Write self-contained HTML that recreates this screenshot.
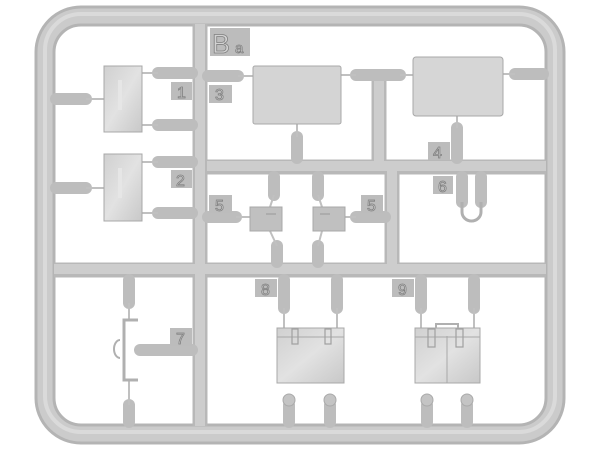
<!DOCTYPE html>
<html><head><style>
html,body{margin:0;padding:0;background:#fff;width:600px;height:450px;overflow:hidden}
svg text{font-family:"Liberation Sans",sans-serif;}
</style></head><body>
<svg width="600" height="450" viewBox="0 0 600 450" xmlns="http://www.w3.org/2000/svg">
<defs>
<linearGradient id="bag" x1="0" y1="0" x2="1" y2="1"><stop offset="0" stop-color="#d0d0d0"/><stop offset="0.5" stop-color="#e2e2e2"/><stop offset="1" stop-color="#c8c8c8"/></linearGradient>
</defs>
<rect width="600" height="450" fill="#fff"/>
<rect x="45" y="16" width="510" height="418" rx="36" fill="none" stroke="#b4b4b4" stroke-width="21"/>
<rect x="45" y="16" width="510" height="418" rx="36" fill="none" stroke="#cbcbcb" stroke-width="15"/>
<rect x="45" y="14" width="510" height="418" rx="36" fill="none" stroke="#dadada" stroke-width="4"/>
<g stroke-linecap="butt">
<g stroke="#b8b8b8" stroke-width="15">
<line x1="200" y1="24" x2="200" y2="426"/>
<line x1="207" y1="167" x2="546" y2="167"/>
<line x1="54" y1="270" x2="546" y2="270"/>
<line x1="392" y1="170" x2="392" y2="268"/>
<line x1="379" y1="70" x2="379" y2="162"/>
</g>
<g stroke="#cdcdcd" stroke-width="10">
<line x1="200" y1="24" x2="200" y2="426"/>
<line x1="207" y1="166" x2="546" y2="166"/>
<line x1="54" y1="269" x2="546" y2="269"/>
<line x1="392" y1="170" x2="392" y2="268"/>
<line x1="379" y1="70" x2="379" y2="162"/>
</g>
<g stroke="#bdbdbd" stroke-width="12" stroke-linecap="round">
<line x1="56" y1="99" x2="86" y2="99"/>
<line x1="56" y1="188" x2="86" y2="188"/>
<line x1="158" y1="73" x2="192" y2="73"/>
<line x1="158" y1="125" x2="192" y2="125"/>
<line x1="158" y1="162" x2="192" y2="162"/>
<line x1="158" y1="213" x2="192" y2="213"/>
<line x1="208" y1="76" x2="238" y2="76"/>
<line x1="356" y1="75" x2="400" y2="75"/>
<line x1="515" y1="74" x2="543" y2="74"/>
<line x1="208" y1="217" x2="236" y2="217"/>
<line x1="356" y1="217" x2="385" y2="217"/>
<line x1="140" y1="350" x2="192" y2="350"/>
<line x1="297" y1="137" x2="297" y2="158"/>
<line x1="457" y1="128" x2="457" y2="158"/>
<line x1="462" y1="177" x2="462" y2="202"/>
<line x1="481" y1="177" x2="481" y2="202"/>
<line x1="274" y1="177" x2="274" y2="195"/>
<line x1="318" y1="177" x2="318" y2="195"/>
<line x1="277" y1="246" x2="277" y2="262"/>
<line x1="318" y1="246" x2="318" y2="262"/>
<line x1="129" y1="280" x2="129" y2="303"/>
<line x1="129" y1="405" x2="129" y2="422"/>
<line x1="284" y1="280" x2="284" y2="308"/>
<line x1="337" y1="280" x2="337" y2="308"/>
<line x1="421" y1="280" x2="421" y2="308"/>
<line x1="474" y1="280" x2="474" y2="308"/>
<line x1="289" y1="405" x2="289" y2="422"/>
<line x1="330" y1="405" x2="330" y2="422"/>
<line x1="427" y1="405" x2="427" y2="422"/>
<line x1="467" y1="405" x2="467" y2="422"/>
</g>
<g stroke="#c0c0c0" stroke-width="2">
<line x1="86" y1="99" x2="104" y2="99"/><line x1="86" y1="188" x2="104" y2="188"/>
<line x1="142" y1="73" x2="158" y2="73"/><line x1="142" y1="125" x2="158" y2="125"/>
<line x1="142" y1="162" x2="158" y2="162"/><line x1="142" y1="213" x2="158" y2="213"/>
<line x1="238" y1="76" x2="253" y2="76"/><line x1="341" y1="75" x2="356" y2="75"/>
<line x1="400" y1="75" x2="413" y2="75"/><line x1="503" y1="74" x2="515" y2="74"/>
<line x1="297" y1="124" x2="297" y2="137"/><line x1="457" y1="116" x2="457" y2="128"/>
<line x1="284" y1="308" x2="284" y2="328"/><line x1="337" y1="308" x2="337" y2="328"/>
<line x1="421" y1="308" x2="421" y2="328"/><line x1="474" y1="308" x2="474" y2="328"/>
<line x1="274" y1="195" x2="270" y2="207"/><line x1="318" y1="195" x2="322" y2="207"/>
<line x1="270" y1="231" x2="277" y2="246"/><line x1="322" y1="231" x2="318" y2="246"/>
<line x1="236" y1="217" x2="252" y2="217"/><line x1="343" y1="217" x2="356" y2="217"/>
<line x1="129" y1="303" x2="129" y2="320"/><line x1="129" y1="380" x2="129" y2="405"/>
</g>
</g>
<g fill="#c4c4c4" stroke="#aaa" stroke-width="1">
<circle cx="289" cy="400" r="6"/><circle cx="330" cy="400" r="6"/>
<circle cx="427" cy="400" r="6"/><circle cx="467" cy="400" r="6"/>
</g>
<g stroke="#a8a8a8" stroke-width="1">
<rect x="104" y="66" width="38" height="66" fill="url(#bag)"/>
<rect x="104" y="154" width="38" height="67" fill="url(#bag)"/>
<rect x="253" y="66" width="88" height="58" rx="2" fill="#d4d4d4"/>
<rect x="413" y="57" width="90" height="59" rx="3" fill="#d6d6d6"/>
<rect x="277" y="328" width="67" height="55" fill="url(#bag)"/>
<rect x="415" y="328" width="65" height="55" fill="url(#bag)"/>
<line x1="447" y1="336" x2="447" y2="383"/>
<line x1="277" y1="337" x2="344" y2="337"/><line x1="415" y1="337" x2="480" y2="337"/>
<rect x="250" y="207" width="32" height="24" fill="#c0c0c0"/>
<rect x="313" y="207" width="32" height="24" fill="#c0c0c0"/>
</g>
<g fill="#e6e6e6"><rect x="118" y="80" width="4" height="30"/><rect x="118" y="168" width="4" height="30"/></g>
<g fill="none" stroke="#a0a0a0" stroke-width="1.2">
<rect x="292" y="329" width="6" height="15"/><rect x="325" y="329" width="6" height="15"/>
<rect x="428" y="329" width="7" height="18"/><rect x="456" y="329" width="7" height="18"/>
<path d="M266 214 h10 M330 214 h-10"/>
</g>
<path d="M462 202 v10 a9.5 9 0 0 0 19 0 v-10" fill="none" stroke="#b0b0b0" stroke-width="3"/>
<path d="M436 328 v-4 h22 v4" fill="none" stroke="#b0b0b0" stroke-width="2"/>
<path d="M138 320 h-14 v60 h14" fill="none" stroke="#b0b0b0" stroke-width="3"/>
<path d="M120 340 a6 9 0 0 0 0 18" fill="none" stroke="#b0b0b0" stroke-width="2"/>
<g fill="#bcbcbc">
<rect x="210" y="28" width="40" height="28"/>
<rect x="171" y="82" width="21" height="18"/>
<rect x="209" y="85" width="23" height="18"/>
<rect x="171" y="170" width="21" height="18"/>
<rect x="209" y="195" width="23" height="18"/>
<rect x="361" y="195" width="22" height="18"/>
<rect x="428" y="142" width="22" height="18"/>
<rect x="433" y="176" width="20" height="18"/>
<rect x="170" y="328" width="22" height="18"/>
<rect x="255" y="279" width="22" height="18"/>
<rect x="392" y="279" width="22" height="18"/>
</g>
<g fill="#d2d2d2" stroke="#808080" stroke-width="0.8" font-size="16">
<text x="212" y="53" font-size="27">B</text><text x="235" y="53" font-size="15">a</text>
<text x="177" y="98">1</text><text x="215" y="100">3</text>
<text x="176" y="186">2</text><text x="215" y="211">5</text>
<text x="367" y="211">5</text><text x="433" y="158">4</text>
<text x="438" y="192">6</text><text x="176" y="344">7</text>
<text x="261" y="295">8</text><text x="398" y="295">9</text>
</g>
</svg>
</body></html>
